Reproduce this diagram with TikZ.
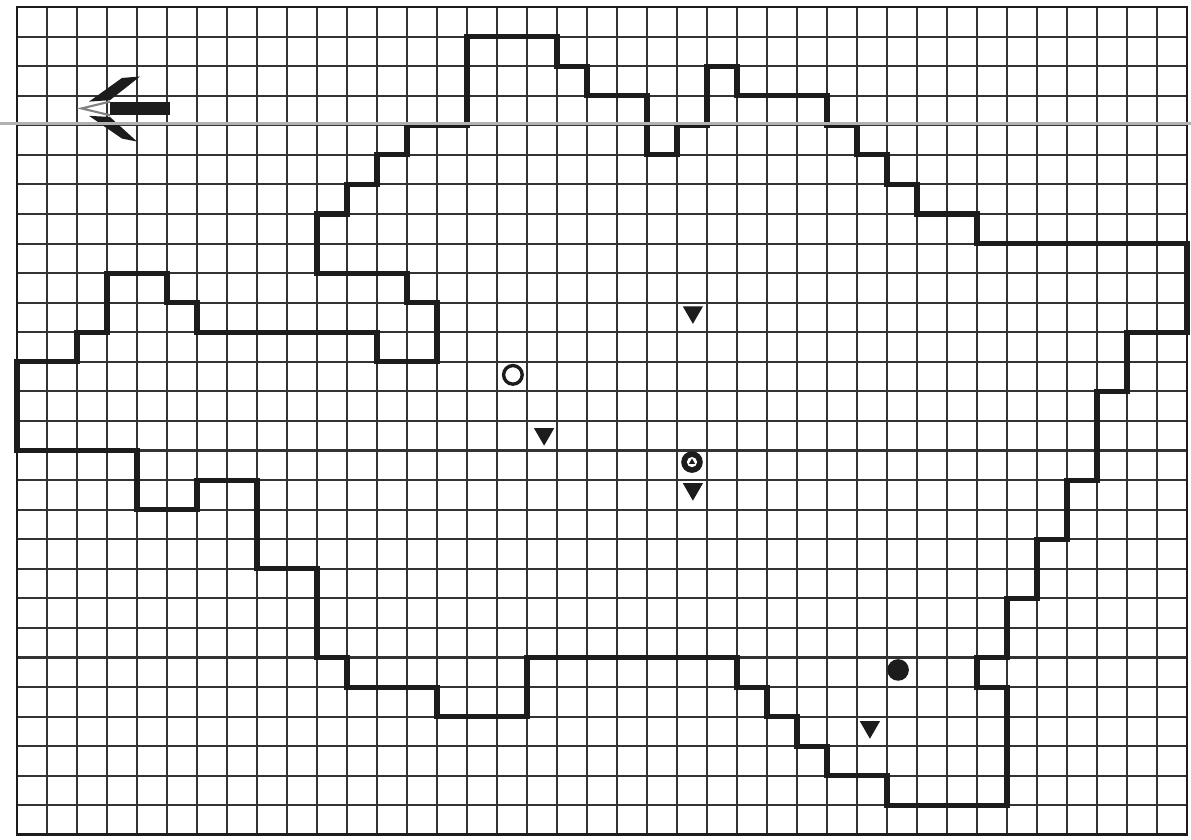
\documentclass[tikz,border=0pt]{standalone}
\usetikzlibrary{shapes.geometric}
\definecolor{inkcol}{HTML}{1C1C1C}
\definecolor{scancol}{HTML}{B2B2B2}

\begin{document}
\begin{tikzpicture}[
  x=0.5cm, y=-0.49283cm,
  gridline/.style={draw=inkcol!90, line width=1pt},
  frame/.style={draw=inkcol, line width=1.4pt},
  border/.style={draw=inkcol, line width=2.4pt, line join=miter},
  scanline/.style={draw=scancol, line width=1.6pt},
  tri/.style={regular polygon, regular polygon sides=3, shape border rotate=180, fill=inkcol, inner sep=0pt, minimum size=0.39cm},
  ring/.style={circle, draw=inkcol, line width=1.6pt, minimum size=0.31cm, inner sep=0pt},
  dot/.style={circle, fill=inkcol, minimum size=0.36cm, inner sep=0pt}
]
\useasboundingbox (-0.5667,-0.2367) rectangle (39.1333,28.17);

% grid
\foreach \c in {0,...,39}
  \draw[gridline] (\c,0) -- (\c,28);
\foreach \r in {0,...,28}
  \draw[gridline] (0,\r) -- (39,\r);
\draw[frame] (0,0) rectangle (39,28);

% outline of the area
\draw[border] (0,15) -- (0,12) -- (2,12) -- (2,11) -- (3,11) -- (3,9) -- (5,9) -- (5,10)
  -- (6,10) -- (6,11) -- (12,11) -- (12,12) -- (14,12) -- (14,10) -- (13,10) -- (13,9)
  -- (10,9) -- (10,7) -- (11,7) -- (11,6) -- (12,6) -- (12,5) -- (13,5) -- (13,4)
  -- (15,4) -- (15,1) -- (18,1) -- (18,2) -- (19,2) -- (19,3) -- (21,3) -- (21,5)
  -- (22,5) -- (22,4) -- (23,4) -- (23,2) -- (24,2) -- (24,3) -- (27,3) -- (27,4)
  -- (28,4) -- (28,5) -- (29,5) -- (29,6) -- (30,6) -- (30,7) -- (32,7) -- (32,8)
  -- (39,8) -- (39,11) -- (37,11) -- (37,13) -- (36,13) -- (36,16) -- (35,16) -- (35,18)
  -- (34,18) -- (34,20) -- (33,20) -- (33,22) -- (32,22) -- (32,23) -- (33,23) -- (33,27)
  -- (29,27) -- (29,26) -- (27,26) -- (27,25) -- (26,25) -- (26,24) -- (25,24) -- (25,23)
  -- (24,23) -- (24,22) -- (17,22) -- (17,24) -- (14,24) -- (14,23) -- (11,23) -- (11,22)
  -- (10,22) -- (10,19) -- (8,19) -- (8,16) -- (6,16) -- (6,17) -- (4,17) -- (4,15) -- cycle;

% north arrow
\fill[inkcol] (3.1,3.2) rectangle (5.1,3.66);
\fill[inkcol] (2.4,3.2) -- (3.5,2.4) -- (4.1,2.35) -- (3.1,3.15) -- cycle;
\fill[inkcol] (2.4,3.68) -- (3.5,4.45) -- (4.0,4.55) -- (3.1,3.72) -- cycle;
\draw[inkcol!55, line width=1pt] (3.1,3.2) -- (2.15,3.43) -- (3.1,3.66);

\draw[scanline] (-0.5667,3.93) -- (39.1333,3.93);

% points
\node[tri] (obs1) at (22.53,10.32) {};
\node[ring] (site) at (16.53,12.44) {};
\node[tri] (obs2) at (17.57,14.44) {};
\node[dot] (well) at (22.5,15.39) {};
\fill[white] (well) circle (0.085cm);
\fill[inkcol] ([yshift=0.06cm]well.center) -- ([xshift=-0.05cm,yshift=-0.03cm]well.center)
  -- ([xshift=0.05cm,yshift=-0.03cm]well.center) -- cycle;
\node[tri] (obs3) at (22.53,16.3) {};
\node[dot] (pump) at (29.37,22.42) {};
\node[tri] (obs4) at (28.43,24.35) {};
\end{tikzpicture}
\end{document}
